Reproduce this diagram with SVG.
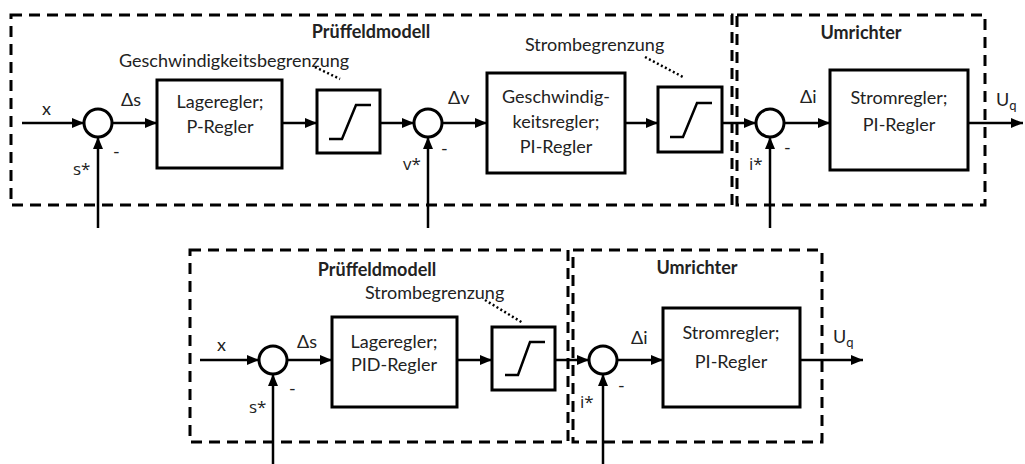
<svg xmlns="http://www.w3.org/2000/svg" width="1025" height="464" viewBox="0 0 1025 464">
<style>
text{font-family:Lato,"Liberation Sans",Arial,sans-serif;font-size:18px;fill:#222}
.b{font-weight:bold}
.m{text-anchor:middle}
.ast{font-family:"Open Sans","Liberation Sans",sans-serif;font-size:17px}
.blk{fill:#fff;stroke:#000;stroke-width:3}
.sum{fill:#fff;stroke:#000;stroke-width:3}
.sat{fill:none;stroke:#000;stroke-width:2.5}
.frame{fill:none;stroke:#000;stroke-width:3;stroke-dasharray:11 7}
.sig{fill:none;stroke:#000;stroke-width:2.5}
.dot{fill:none;stroke:#000;stroke-width:2.5;stroke-dasharray:2 2.5}
</style>
<defs>
<marker id="ah" markerUnits="userSpaceOnUse" markerWidth="12" markerHeight="10" refX="12" refY="5" orient="auto">
<path d="M0,0 L12,5 L0,10 Z" fill="#000"/>
</marker>
</defs>
<rect width="1025" height="464" fill="#fff"/>

<!-- top diagram frames -->
<g id="top-prueffeld">
<rect class="frame" x="11" y="15" width="721" height="190"/>
<text class="b m" x="371" y="38">Prüffeldmodell</text>
</g>
<g id="top-umrichter">
<rect class="frame" x="737" y="15" width="248" height="190"/>
<text class="b m" x="861" y="39">Umrichter</text>
</g>

<!-- top connectors -->
<g id="top-connectors">
<path class="sig" d="M22 123 H84" marker-end="url(#ah)"/>
<path class="sig" d="M98 228 V137" marker-end="url(#ah)"/>
<path class="sig" d="M112 123 H157" marker-end="url(#ah)"/>
<path class="sig" d="M282 123 H317" marker-end="url(#ah)"/>
<path class="sig" d="M380 123 H414" marker-end="url(#ah)"/>
<path class="sig" d="M428 228 V137" marker-end="url(#ah)"/>
<path class="sig" d="M442 123 H487" marker-end="url(#ah)"/>
<path class="sig" d="M625 123 H658" marker-end="url(#ah)"/>
<path class="sig" d="M722 123 H756" marker-end="url(#ah)"/>
<path class="sig" d="M770 228 V137" marker-end="url(#ah)"/>
<path class="sig" d="M784 123 H830" marker-end="url(#ah)"/>
<path class="sig" d="M968 123 H1023" marker-end="url(#ah)"/>
<path class="dot" d="M315 67 L340 79"/>
<path class="dot" d="M645 57 L683 77"/>
</g>

<g id="top-labels">
<text x="42" y="115">x</text>
<text x="113" y="158">-</text>
<text class="ast" x="73" y="175">s*</text>
<text x="121" y="106">Δs</text>
<text x="441" y="155">-</text>
<text class="ast" x="403" y="170">v*</text>
<text x="448" y="104">Δv</text>
<text x="784" y="154">-</text>
<text class="ast" x="749" y="170">i*</text>
<text x="800" y="103">Δi</text>
<text x="996" y="106">U<tspan font-size="13" dy="4">q</tspan></text>
<text x="119" y="67">Geschwindigkeitsbegrenzung</text>
<text x="525" y="51">Strombegrenzung</text>
</g>

<g id="top-sum1"><circle class="sum" cx="98" cy="123" r="14"/></g>
<g id="top-lageregler">
<rect class="blk" x="157" y="80" width="125" height="88"/>
<text class="m" x="220" y="108">Lageregler;</text>
<text class="m" x="220" y="133">P-Regler</text>
</g>
<g id="top-sat1">
<rect class="blk" x="317" y="90" width="63" height="63"/>
<path class="sat" d="M329 139 H342 L356 105 H371"/>
</g>
<g id="top-sum2"><circle class="sum" cx="428" cy="123" r="14"/></g>
<g id="top-geschw">
<rect class="blk" x="487" y="73" width="138" height="100"/>
<text class="m" x="556" y="103">Geschwindig-</text>
<text class="m" x="556" y="128">keitsregler;</text>
<text class="m" x="556" y="153">PI-Regler</text>
</g>
<g id="top-sat2">
<rect class="blk" x="658" y="87" width="64" height="65"/>
<path class="sat" d="M670 137 H683 L697 103 H712"/>
</g>
<g id="top-sum3"><circle class="sum" cx="770" cy="123" r="14"/></g>
<g id="top-stromregler">
<rect class="blk" x="830" y="70" width="138" height="100"/>
<text class="m" x="899" y="104">Stromregler;</text>
<text class="m" x="899" y="131">PI-Regler</text>
</g>

<!-- bottom diagram -->
<g id="bot-prueffeld">
<rect class="frame" x="190" y="250" width="378" height="192"/>
<text class="b m" x="377" y="276">Prüffeldmodell</text>
</g>
<g id="bot-umrichter">
<rect class="frame" x="573" y="250" width="249" height="192"/>
<text class="b m" x="697" y="274">Umrichter</text>
</g>

<g id="bot-connectors">
<path class="sig" d="M200 360 H259" marker-end="url(#ah)"/>
<path class="sig" d="M273 464 V374" marker-end="url(#ah)"/>
<path class="sig" d="M287 360 H332" marker-end="url(#ah)"/>
<path class="sig" d="M457 360 H492" marker-end="url(#ah)"/>
<path class="sig" d="M555 360 H589" marker-end="url(#ah)"/>
<path class="sig" d="M603 464 V374" marker-end="url(#ah)"/>
<path class="sig" d="M617 360 H663" marker-end="url(#ah)"/>
<path class="sig" d="M800 360 H863" marker-end="url(#ah)"/>
<path class="dot" d="M485 300 L523 323"/>
</g>

<g id="bot-labels">
<text x="217" y="351">x</text>
<text x="289" y="395">-</text>
<text class="ast" x="249" y="413">s*</text>
<text x="297" y="348">Δs</text>
<text x="618" y="392">-</text>
<text class="ast" x="580" y="408">i*</text>
<text x="631" y="344">Δi</text>
<text x="833" y="343">U<tspan font-size="13" dy="4">q</tspan></text>
<text x="365" y="299">Strombegrenzung</text>
</g>

<g id="bot-sum1"><circle class="sum" cx="273" cy="360" r="14"/></g>
<g id="bot-lageregler">
<rect class="blk" x="332" y="317" width="125" height="90"/>
<text class="m" x="394" y="348">Lageregler;</text>
<text class="m" x="394" y="371">PID-Regler</text>
</g>
<g id="bot-sat">
<rect class="blk" x="492" y="327" width="63" height="63"/>
<path class="sat" d="M505 375 H518 L530 342 H545"/>
</g>
<g id="bot-sum2"><circle class="sum" cx="603" cy="360" r="14"/></g>
<g id="bot-stromregler">
<rect class="blk" x="663" y="308" width="137" height="99"/>
<text class="m" x="731" y="339">Stromregler;</text>
<text class="m" x="731" y="368">PI-Regler</text>
</g>
</svg>
